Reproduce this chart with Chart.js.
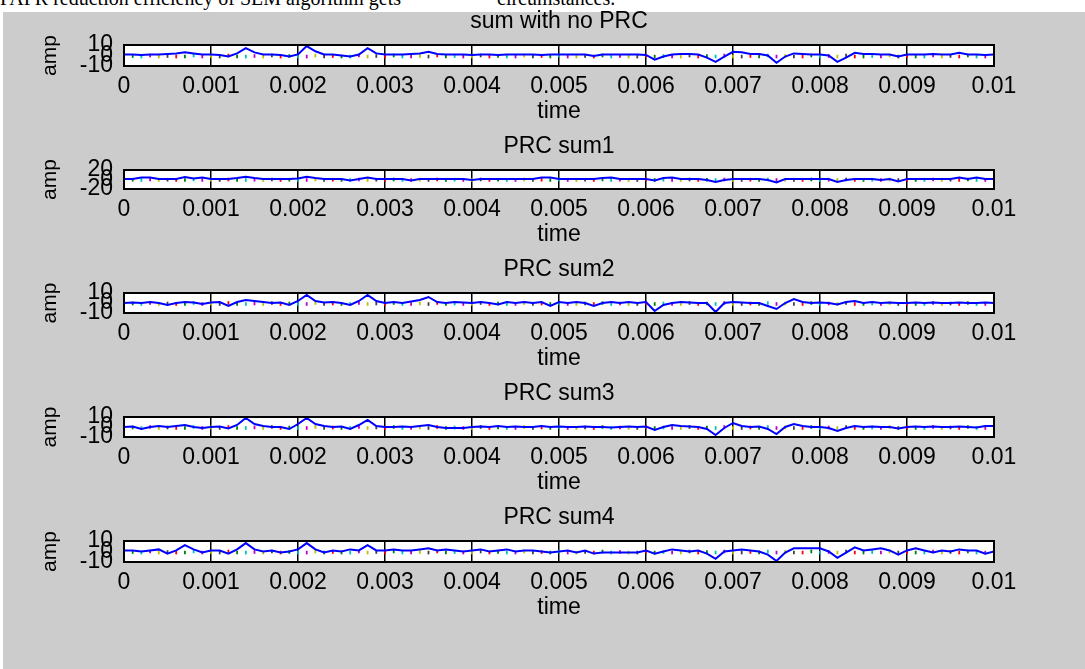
<!DOCTYPE html>
<html>
<head>
<meta charset="utf-8">
<script src="https://cdn.jsdelivr.net/npm/chart.js@4.4.1/dist/chart.umd.min.js"></script>
<style>
  html, body { margin: 0; padding: 0; background: #fff; }
  body { width: 1085px; height: 669px; position: relative; overflow: hidden; }
  #caption { position: absolute; top: -13px; left: 0; font-family: "Liberation Serif", "Times New Roman", serif;
             font-size: 20px; line-height: 22px; white-space: nowrap; color: #000; }
  #caption span { position: absolute; top: 0; }
  #figure { position: absolute; left: 3px; top: 12px; right: 0; bottom: 0; background: #cccccc; }
  canvas.sub { position: absolute; left: 0; }
</style>
</head>
<body>
<div id="caption"><span style="left:0">PAPR reduction efficiency of SLM algorithm gets</span><span style="left:497px">circumstances.</span></div>
<div id="figure"></div>
<canvas id="s0" class="sub"></canvas>
<canvas id="s1" class="sub"></canvas>
<canvas id="s2" class="sub"></canvas>
<canvas id="s3" class="sub"></canvas>
<canvas id="s4" class="sub"></canvas>
<script>
// sample grid: 0 .. 0.01 s, step 0.0001
const time = Array.from({ length: 101 }, (_, i) => i / 10000);

const timeTicks = [0, 0.001, 0.002, 0.003, 0.004, 0.005, 0.006, 0.007, 0.008, 0.009, 0.01];
const timeTickLabels = ['0', '0.001', '0.002', '0.003', '0.004', '0.005', '0.006', '0.007', '0.008', '0.009', '0.01'];

const ampTicks10 = [-10, 0, 10];
const ampLabels10 = ['-10', '0', '10'];
const ampTicks20 = [-20, 0, 20];
const ampLabels20 = ['-20', '0', '20'];

const titles = ['sum with no PRC', 'PRC sum1', 'PRC sum2', 'PRC sum3', 'PRC sum4'];

// blue traces
const sumNoPrc = [1, 1, 0.5, 1, 1, 1.5, 2, 3, 2, 1, 1, 0.5, -1, 2, 7, 3, 1, 1, 0.5, -1,
  1, 9, 4, 1, 1, 0, -1, 1, 7, 2, 1, 1, 1, 1.5, 2, 3.5, 1.5, 1, 1, 1,
  0.5, 1, 1, 0.5, 1, 1, 1, 1, 0.5, 1, 1, 1, 1, 1, -0.5, 1, 1, 1, 1, 1,
  0.5, -4, -1, 1, 1.5, 1.5, 1, -2, -6, -1, 3.5, 3, 1.5, 1.5, 0, -7, -1, 2, 1.5, 1,
  1, 0, -6, -2, 2.5, 1.5, 1.5, 1, 1, -1, 1, 1, 1, 1.5, 1, 1, 2.5, 1, 1, 0.5, 1];

const prcSum1 = [1, 1, 4, 4, 1, 1, 1, 5, 2, 4, 1, 1, 1, 3, 6, 3, 1, 1, 1, 1,
  2, 6, 3, 1, 1, 1, -2, 1, 4, 1, 1, 1, 1, -2, 1, 1, 1, 1, 1, 1,
  -1, 1, 1, 1, 1, 1, 1, 1, 4, 4, 1, 1, 1, 1, 1, 3, 4, 1, 1, 1,
  1, -2, 3, 4, 1, 1, 1, -1, -5, -1, 1, 1, 1, 1, -1, -6, 1, 1, 1, 1,
  1, 1, -5, -1, 1, 1, 1, -1, 1, -4, 1, 1, 1, 1, 1, 1, 4, 1, 4, 1, 1];

const prcSum2 = [0, 0.5, 0, 1, 0, -2, 0, 1, 0.5, -1, 0.5, 1, -3, 1, 3, 2, 1, 0, 0.5, -2,
  2, 8, 2, 0.5, 1, 0, -2, 2, 8, 2, 0, 1, 0, 1.5, 3, 6, 1, 0, 1, 0.5,
  0, 1, 0, -1.5, 1, 0, 1, 0, 1, -3, 1, 0, 1, 0, -3, 0, 1, 0, 1, 0,
  1, -8, -2, 0, 1, 0.5, 0, 0, -9, 0, 1, 0.5, 0, 0, -3, -6, 0, 4, 1, 0,
  0.5, 0, -1.5, 1, 2, 0, 1, 0, 0.5, 0, 0, 0.5, 0, 0.5, 0, 0, 0.5, 0, 0, 0.5, 0];

const prcSum3 = [0, 0.5, -2, 0, 1, 0, 1, 2, 0, -1, 0, 0.5, -1.5, 2, 9, 3, 1, 0, 0, -2,
  3, 9, 3, 1, 0, 0.5, -2, 2, 7, 1, 0, 0, 0.5, 0, 1, 2, 0, -1, -1, -1,
  0, 0.5, 0, 1, 0, 0.5, 0, 0, 1, 0, 0.5, 0, 0, 0.5, 0, 0, -0.5, 0, 0.5, 0,
  0.5, -3, 0, 2, 1, 0.5, 0, -2, -8, -1, 4, 1, 0, 0.5, -2, -7, 0, 3, 1, 0,
  0, -1, -4, -1, 1, 0, 0.5, 0, 0, -1.5, 0, 0.5, 0, 0.5, 0, 0, 0.5, 0, -0.5, 1, 1];

const prcSum4 = [1, 1, 0, 1, 2, -2, 1, 6, 2, -1, 1, 1, -2, 2, 8, 2, 0, 1, -1, 0,
  2, 8, 2, -1, 1, 0, 2, 1, 6, 1, 1, 2, 1, 1, 2, 3, 1, 2, 1, 0,
  1, 2, 0, 1, 2, 0, 1, 1, 0, -1, 0, 1, -1, 1, -2, -1, -1, -1, -1, -1,
  1, -2, 0, 2, 1, 0, 1, -2, -7, 0, 1, 2, 1, 0, -3, -9, -1, 3, 3, 3,
  3, 0, -6, -1, 4, 1, 2, 3, 1, -3, 1, 3, 1, -1, 1, 0, 2, 1, 1, -2, 0];

// small coloured markers of the component signals
const markerLevels = [-1, -0.5, -1, 0, -1, -0.5, -1, -1, 0, -1, -0.5, -1, 0, -1, -1, -0.5, -1, 0, -1, -0.5,
  -1, -1, 0, -1, -0.5, -1, -1, 0, -1, -0.5, -1, 0, -1, -1, -0.5, -1, 0, -1, -0.5, -1,
  -1, 0, -1, -0.5, -1, -1, 0, -1, -0.5, -1, 0, -1, -1, -0.5, -1, 0, -1, -0.5, -1, -1,
  0, -1, -0.5, -1, -1, 0, -1, -0.5, -1, 0, -1, -1, -0.5, -1, 0, -1, -0.5, -1, -1, 0,
  -1, -0.5, -1, 0, -1, -1, -0.5, -1, 0, -1, -0.5, -1, -1, 0, -1, -0.5, -1, 0, -1, -1, -0.5];
const markerPalette = ['#ff0000', '#008000', '#00bfbf', '#bf00bf', '#bfbf00', '#404040'];

const series = [sumNoPrc, prcSum1, prcSum2, prcSum3, prcSum4];
const boxTops = [45, 170, 293, 417, 541];
const boxHeights = [21, 19, 20, 20, 21];

const TITLE_SPACE = 45;
const XAXIS_SPACE = 59;
const FONT = '"Liberation Sans", Arial, sans-serif';

// white plot area + black frame, like the MATLAB axes box
const framePlugin = {
  id: 'frame',
  beforeDraw(chart) {
    const a = chart.chartArea, ctx = chart.ctx;
    ctx.save();
    ctx.fillStyle = '#ffffff';
    ctx.fillRect(a.left, a.top, a.right - a.left, a.bottom - a.top);
    ctx.restore();
  },
  afterDraw(chart) {
    const a = chart.chartArea, ctx = chart.ctx;
    ctx.save();
    ctx.strokeStyle = '#000';
    ctx.lineWidth = 2;
    ctx.strokeRect(a.left, a.top, a.right - a.left, a.bottom - a.top);
    ctx.restore();
  }
};

function makeSubplot(k) {
  const canvas = document.getElementById('s' + k);
  const h = TITLE_SPACE + boxHeights[k] + XAXIS_SPACE;
  canvas.width = 1085;
  canvas.height = h;
  canvas.style.top = (boxTops[k] - TITLE_SPACE) + 'px';

  const big = k === 1;
  const yTicks = big ? ampTicks20 : ampTicks10;
  const yLabels = big ? ampLabels20 : ampLabels10;

  const markers = time.map((t, i) => ({ x: t, y: markerLevels[i] }));

  new Chart(canvas, {
    type: 'line',
    data: {
      labels: time,
      datasets: [
        {
          data: series[k],
          borderColor: '#0000ff',
          borderWidth: 2,
          pointRadius: 0,
          tension: 0
        },
        {
          data: markers,
          showLine: false,
          pointStyle: 'line',
          rotation: 90,
          pointRadius: 1.8,
          pointBorderWidth: 1.8,
          pointBorderColor: markers.map((_, i) => markerPalette[i % markerPalette.length])
        }
      ]
    },
    options: {
      responsive: false,
      animation: false,
      devicePixelRatio: 1,
      layout: { padding: { left: 0, right: 91, top: 0, bottom: 0 } },
      plugins: {
        legend: { display: false },
        tooltip: { enabled: false },
        title: { display: false }
      },
      scales: {
        // top axis only carries the subplot title, centred over the box
        top: {
          type: 'linear',
          position: 'top',
          min: 0,
          max: 0.01,
          afterFit: s => { s.height = TITLE_SPACE; },
          grid: { display: false, drawTicks: false },
          border: { display: false },
          ticks: { display: false },
          title: {
            display: true,
            text: titles[k],
            color: '#000',
            padding: { top: 8, bottom: 0 },
            font: { family: FONT, size: 23 }
          }
        },
        x: {
          type: 'linear',
          position: 'bottom',
          min: 0,
          max: 0.01,
          afterBuildTicks: s => { s.ticks = timeTicks.map(v => ({ value: v })); },
          afterFit: s => { s.height = XAXIS_SPACE; },
          grid: { color: '#000', lineWidth: 1.5, drawTicks: false },
          border: { display: false },
          ticks: {
            autoSkip: false,
            maxRotation: 0,
            padding: 7,
            color: '#000',
            font: { family: FONT, size: 23 },
            callback: (v, i) => timeTickLabels[i]
          },
          title: {
            display: true,
            text: 'time',
            color: '#000',
            padding: 0,
            font: { family: FONT, size: 23 }
          }
        },
        y: {
          min: yTicks[0],
          max: yTicks[yTicks.length - 1],
          afterBuildTicks: s => { s.ticks = yTicks.map(v => ({ value: v })); },
          afterFit: s => { s.width = 124; },
          grid: { display: false, drawTicks: false },
          border: { display: false },
          ticks: {
            autoSkip: false,
            padding: 11,
            color: '#000',
            font: { family: FONT, size: 23 },
            callback: (v, i) => yLabels[i]
          },
          title: {
            display: true,
            text: 'amp',
            color: '#000',
            padding: { top: 38, bottom: 0 },
            font: { family: FONT, size: 21 }
          }
        }
      }
    },
    plugins: [framePlugin]
  });
}

for (let k = 0; k < 5; k++) makeSubplot(k);
</script>
</body>
</html>
